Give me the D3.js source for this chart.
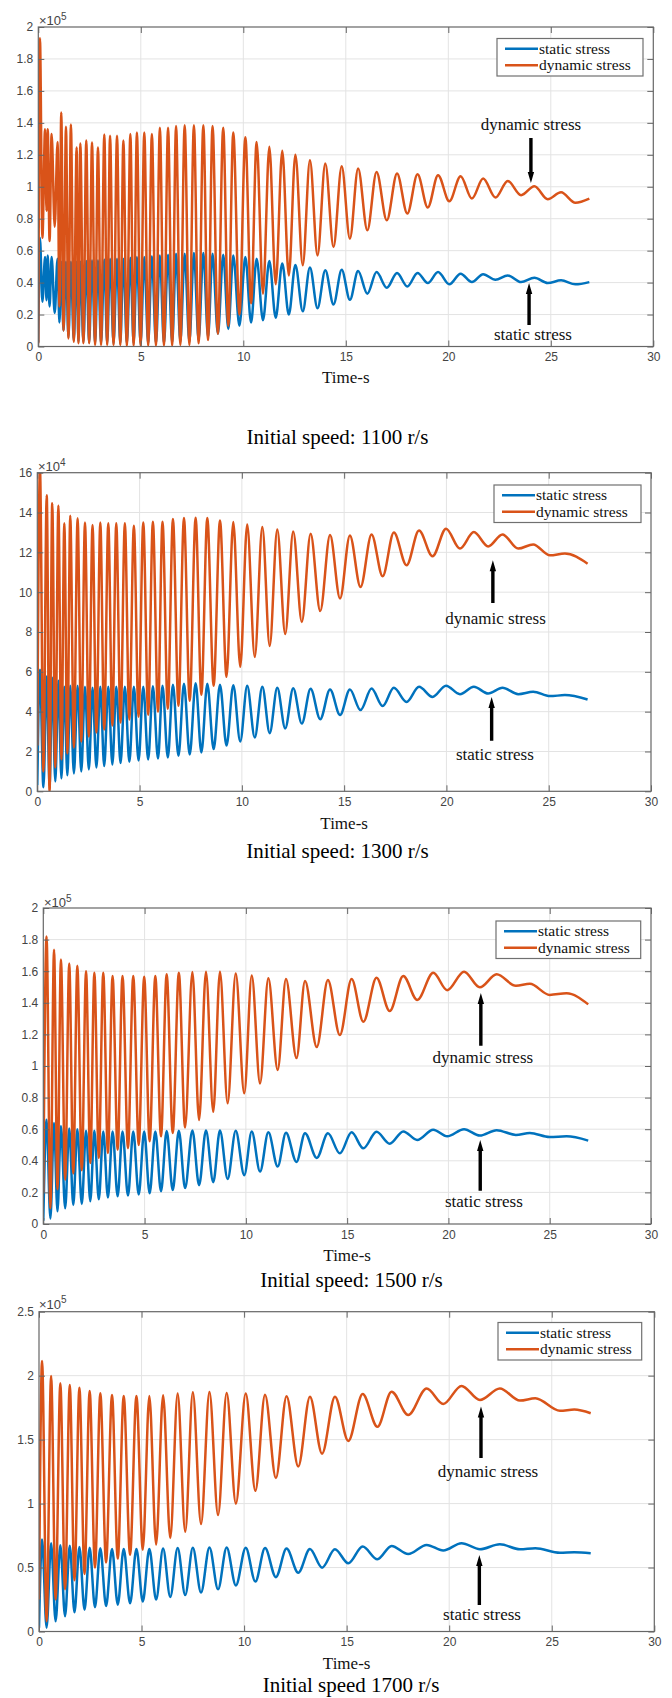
<!DOCTYPE html>
<html><head><meta charset="utf-8">
<script src="https://cdn.jsdelivr.net/npm/d3@7"></script>
<style>body{margin:0;background:#fff}svg{display:block}</style>
</head><body>
<svg id="c" width="672" height="1698"></svg>
<script>
// ---------------- DATA ----------------
const xTicks = [0, 5, 10, 15, 20, 25, 30];
const yTicks1 = [0, 0.2, 0.4, 0.6, 0.8, 1, 1.2, 1.4, 1.6, 1.8, 2];
const yTicks2 = [0, 2, 4, 6, 8, 10, 12, 14, 16];
const yTicks3 = [0, 0.2, 0.4, 0.6, 0.8, 1, 1.2, 1.4, 1.6, 1.8, 2];
const yTicks4 = [0, 0.5, 1, 1.5, 2, 2.5];
const exponents = ["5", "4", "5", "5"];
const captions = ["Initial speed: 1100 r/s", "Initial speed: 1300 r/s", "Initial speed: 1500 r/s", "Initial speed 1700 r/s"];
const seriesNames = ["static stress", "dynamic stress"];

// Panel 1 (1100 r/s), values x10^5 : extrema of the oscillation
const p1PeakT = [0.08,0.33,0.46,0.65,0.94,1.12,1.35,1.59,1.87,2.05,2.34,2.62,2.91,3.22,3.50,3.84,4.15,4.49,4.81,5.17,5.54,5.93,6.33,6.72,7.14,7.59,8.05,8.50,9.02,9.51,10.1,10.65,11.27,11.9,12.54,13.25,14.0,14.8,15.6,16.5,17.5,18.5,19.5,20.6,21.7,22.9,24.2,25.5];
const p1TroughT = [0.2,0.4,0.55,0.8,1.03,1.23,1.47,1.73,1.96,2.2,2.48,2.77,3.06,3.36,3.67,4.0,4.32,4.65,4.99,5.36,5.74,6.13,6.53,6.93,7.37,7.82,8.28,8.76,9.27,9.81,10.38,10.96,11.58,12.22,12.9,13.62,14.4,15.2,16.05,17.0,18.0,19.0,20.05,21.15,22.3,23.55,24.85,26.2];
const p1DynPeak = [1.93,1.36,1.36,1.33,1.28,1.465,1.375,1.39,1.246,1.27,1.29,1.277,1.246,1.327,1.32,1.32,1.29,1.33,1.34,1.34,1.33,1.37,1.37,1.38,1.385,1.385,1.385,1.38,1.37,1.34,1.31,1.28,1.25,1.225,1.20,1.166,1.145,1.128,1.114,1.093,1.083,1.078,1.072,1.066,1.051,1.036,1.003,0.965];
const p1DynTrough = [0.68,0.85,0.66,0.75,0.25,0.1,0.05,0.03,0.02,0.02,0.02,0.01,0.01,0.01,0.01,0.01,0.005,0.005,0.005,0.005,0.005,0.005,0.005,0.01,0.01,0.02,0.04,0.08,0.13,0.2,0.27,0.33,0.39,0.445,0.508,0.57,0.623,0.675,0.727,0.79,0.832,0.87,0.909,0.926,0.932,0.947,0.922,0.90];
const p1StaPeak = [0.68,0.56,0.57,0.56,0.55,0.53,0.53,0.53,0.53,0.53,0.535,0.54,0.54,0.545,0.55,0.55,0.55,0.555,0.56,0.56,0.565,0.57,0.575,0.58,0.58,0.585,0.585,0.58,0.575,0.57,0.56,0.55,0.535,0.52,0.51,0.495,0.478,0.48,0.472,0.466,0.46,0.46,0.466,0.456,0.452,0.445,0.43,0.414];
const p1StaTrough = [0.28,0.29,0.25,0.21,0.15,0.1,0.06,0.04,0.03,0.03,0.025,0.02,0.02,0.02,0.02,0.02,0.02,0.02,0.02,0.02,0.02,0.02,0.025,0.03,0.03,0.04,0.06,0.08,0.11,0.13,0.15,0.165,0.18,0.2,0.22,0.24,0.263,0.292,0.33,0.368,0.376,0.397,0.389,0.403,0.418,0.403,0.397,0.389];
const p1EdgeT = [0, 26.88];
const p1EdgeDyn = [0.02, 0.926];
const p1EdgeSta = [0.03, 0.403];

// Panel 2 (1300 r/s), values x10^4
const p2PeakT = [0.13,0.46,0.73,1.03,1.32,1.61,1.97,2.33,2.70,3.08,3.47,3.86,4.28,4.72,5.18,5.65,6.12,6.63,7.17,7.74,8.31,8.93,9.58,10.26,11.0,11.73,12.51,13.36,14.31,15.28,16.34,17.43,18.66,19.98,21.34,22.74,24.24,25.79];
const p2TroughT = [0.3,0.6,0.88,1.18,1.47,1.79,2.15,2.52,2.89,3.27,3.67,4.07,4.5,4.95,5.42,5.9,6.38,6.9,7.45,8.02,8.62,9.25,9.92,10.63,11.36,12.12,12.93,13.83,14.8,15.8,16.88,18.05,19.32,20.66,22.04,23.51,25.06];
const p2DynPeak = [16.2,14.87,14.46,14.34,13.46,13.84,13.71,13.5,13.37,13.5,13.46,13.46,13.46,13.33,13.5,13.54,13.54,13.67,13.72,13.74,13.72,13.6,13.52,13.4,13.27,13.15,13.05,12.93,12.87,12.85,12.9,13.0,13.1,13.19,13.02,12.9,12.4,11.94];
const p2DynTrough = [1.0,0.0,1.2,1.6,1.9,2.2,2.5,2.75,2.95,3.1,3.3,3.45,3.6,3.75,3.85,4.0,4.15,4.3,4.55,4.85,5.3,5.75,6.25,6.75,7.3,7.9,8.5,9.05,9.68,10.26,10.8,11.35,11.8,12.19,12.3,12.19,11.85];
const p2StaPeak = [6.1,5.77,5.7,5.55,5.25,5.3,5.3,5.25,5.2,5.25,5.25,5.25,5.25,5.25,5.25,5.28,5.3,5.35,5.4,5.42,5.4,5.35,5.33,5.3,5.25,5.2,5.18,5.15,5.11,5.11,5.16,5.2,5.25,5.3,5.25,5.2,5.0,4.83];
const p2StaTrough = [0.2,0.3,0.5,0.65,0.8,0.9,1.0,1.1,1.2,1.27,1.35,1.42,1.48,1.55,1.6,1.65,1.7,1.78,1.85,1.95,2.12,2.3,2.5,2.7,2.92,3.16,3.4,3.62,3.83,4.08,4.28,4.49,4.74,4.88,4.91,4.88,4.78];
const p2EdgeT = [0, 26.9];
const p2EdgeDyn = [2.3, 11.43];
const p2EdgeSta = [0.3, 4.61];

// Panel 3 (1500 r/s), values x10^5
const p3PeakT = [0.16,0.53,0.87,1.28,1.68,2.11,2.52,2.96,3.42,3.91,4.44,4.98,5.53,6.09,6.69,7.36,8.03,8.72,9.5,10.29,11.11,11.98,12.92,14.05,15.22,16.45,17.77,19.25,20.77,22.38,24.02,25.83];
const p3TroughT = [0.35,0.70,1.08,1.48,1.9,2.32,2.74,3.19,3.67,4.18,4.71,5.25,5.81,6.39,7.0,7.69,8.39,9.1,9.92,10.7,11.57,12.5,13.5,14.64,15.8,17.1,18.46,19.94,21.55,23.33,25.0];
const p3DynPeak = [1.82,1.736,1.674,1.648,1.635,1.6,1.59,1.59,1.57,1.57,1.57,1.565,1.57,1.58,1.59,1.595,1.597,1.597,1.586,1.572,1.555,1.55,1.538,1.544,1.55,1.558,1.57,1.59,1.597,1.58,1.52,1.46];
const p3DynTrough = [0.1,0.22,0.28,0.32,0.34,0.386,0.418,0.45,0.47,0.48,0.5,0.523,0.555,0.576,0.61,0.658,0.71,0.764,0.827,0.89,0.975,1.05,1.12,1.196,1.28,1.348,1.418,1.48,1.498,1.508,1.45];
const p3StaPeak = [0.66,0.64,0.62,0.605,0.6,0.59,0.59,0.585,0.585,0.585,0.585,0.585,0.585,0.588,0.59,0.592,0.592,0.592,0.59,0.585,0.58,0.578,0.575,0.574,0.58,0.584,0.586,0.597,0.6,0.594,0.576,0.555];
const p3StaTrough = [0.035,0.08,0.1,0.12,0.127,0.144,0.156,0.168,0.175,0.18,0.187,0.195,0.207,0.215,0.228,0.246,0.265,0.285,0.309,0.332,0.364,0.392,0.418,0.447,0.479,0.508,0.532,0.555,0.56,0.564,0.55];
const p3EdgeT = [0, 26.9];
const p3EdgeDyn = [0.2, 1.39];
const p3EdgeSta = [0.02, 0.528];

// Panel 4 (1700 r/s), values x10^5
const p4PeakT = [0.15,0.59,1.04,1.5,1.97,2.47,2.99,3.56,4.13,4.75,5.38,6.05,6.76,7.5,8.31,9.15,10.08,11.02,12.07,13.21,14.43,15.78,17.19,18.9,20.6,22.47,24.2,26.1];
const p4TroughT = [0.37,0.81,1.27,1.73,2.22,2.73,3.27,3.84,4.44,5.06,5.71,6.4,7.13,7.9,8.73,9.6,10.55,11.55,12.64,13.8,15.08,16.5,18.0,19.71,21.5,23.45,25.4];
const p4DynPeak = [2.115,1.998,1.94,1.927,1.906,1.88,1.862,1.849,1.841,1.841,1.841,1.846,1.86,1.87,1.873,1.865,1.86,1.85,1.84,1.835,1.836,1.857,1.875,1.9,1.92,1.9,1.823,1.735];
const p4DynTrough = [0.08,0.25,0.33,0.4,0.45,0.5,0.54,0.57,0.6,0.64,0.68,0.73,0.78,0.84,0.91,1.0,1.1,1.2,1.29,1.39,1.49,1.6,1.693,1.779,1.81,1.805,1.725];
const p4StaPeak = [0.72,0.69,0.675,0.67,0.66,0.655,0.65,0.645,0.645,0.645,0.645,0.648,0.652,0.655,0.657,0.657,0.655,0.652,0.648,0.645,0.643,0.664,0.669,0.677,0.69,0.682,0.651,0.62];
const p4StaTrough = [0.03,0.08,0.12,0.15,0.17,0.19,0.2,0.21,0.22,0.235,0.25,0.27,0.285,0.305,0.33,0.36,0.39,0.425,0.46,0.499,0.533,0.565,0.606,0.633,0.643,0.643,0.615];
const p4EdgeT = [0, 26.9];
const p4EdgeDyn = [0.25, 1.706];
const p4EdgeSta = [0.03, 0.612];

// ---------------- LAYOUT ----------------
const panels = [
  {peakT:p1PeakT, troughT:p1TroughT, dynP:p1DynPeak, dynT:p1DynTrough, staP:p1StaPeak, staT:p1StaTrough, eT:p1EdgeT, eD:p1EdgeDyn, eS:p1EdgeSta, yTicks:yTicks1},
  {peakT:p2PeakT, troughT:p2TroughT, dynP:p2DynPeak, dynT:p2DynTrough, staP:p2StaPeak, staT:p2StaTrough, eT:p2EdgeT, eD:p2EdgeDyn, eS:p2EdgeSta, yTicks:yTicks2},
  {peakT:p3PeakT, troughT:p3TroughT, dynP:p3DynPeak, dynT:p3DynTrough, staP:p3StaPeak, staT:p3StaTrough, eT:p3EdgeT, eD:p3EdgeDyn, eS:p3EdgeSta, yTicks:yTicks3},
  {peakT:p4PeakT, troughT:p4TroughT, dynP:p4DynPeak, dynT:p4DynTrough, staP:p4StaPeak, staT:p4StaTrough, eT:p4EdgeT, eD:p4EdgeDyn, eS:p4EdgeSta, yTicks:yTicks4}
];
const layout = [
  {left:38.3, right:653.3, top:27, bottom:346.5, capX:337.5, capY:444, timeY:383, expX:39, expY:25,
   legend:{x:497, y:38.5, w:146, h:37.5},
   ann:[{t:24.03, tip:1.023, tail:1.305, lt:24.03, lv:1.355, text:"dynamic stress"},
        {t:23.94, tip:0.397, tail:0.135, lt:24.13, lv:0.04, text:"static stress"}]},
  {left:37.3, right:651, top:472.7, bottom:791.3, capX:337.5, capY:858, timeY:829, expX:38, expY:471,
   legend:{x:494, y:485, w:147, h:37.5},
   ann:[{t:22.27, tip:11.6, tail:9.46, lt:22.4, lv:8.39, text:"dynamic stress"},
        {t:22.21, tip:4.74, tail:2.54, lt:22.37, lv:1.57, text:"static stress"}]},
  {left:43.3, right:651, top:908, bottom:1224, capX:351.5, capY:1287, timeY:1261, expX:44, expY:907,
   legend:{x:496, y:921, w:144.7, h:37.5},
   ann:[{t:21.6, tip:1.462, tail:1.128, lt:21.7, lv:1.019, text:"dynamic stress"},
        {t:21.57, tip:0.532, tail:0.211, lt:21.75, lv:0.108, text:"static stress"}]},
  {left:39, right:654.3, top:1311.7, bottom:1631.5, capX:351, capY:1692, timeY:1669, expX:39, expY:1308.5,
   legend:{x:498, y:1322.5, w:143.7, h:37.5},
   ann:[{t:21.55, tip:1.758, tail:1.357, lt:21.89, lv:1.208, text:"dynamic stress"},
        {t:21.47, tip:0.598, tail:0.207, lt:21.6, lv:0.09, text:"static stress"}]}
];

const BLUE = "#0072BD", ORANGE = "#D95319";
const SANS = "Arial, 'Liberation Sans', Helvetica, sans-serif";
const SERIF = "'Times New Roman', 'Liberation Serif', serif";

function build(peakT, troughT, peaks, troughs, edgeT, edgeV) {
  const pts = [[edgeT[0], edgeV[0]]];
  peakT.forEach((t, i) => {
    pts.push([t, peaks[i]]);
    if (i < troughT.length) pts.push([troughT[i], troughs[i]]);
  });
  pts.push([edgeT[1], edgeV[1]]);
  return pts;
}

const svg = d3.select("#c");
const defs = svg.append("defs");

layout.forEach((L, k) => {
  const P = panels[k];
  const yMax = P.yTicks[P.yTicks.length - 1];
  const x = d3.scaleLinear().domain([0, 30]).range([L.left, L.right]);
  const y = d3.scaleLinear().domain([0, yMax]).range([L.bottom, L.top]);
  const g = svg.append("g");

  // grid
  g.selectAll(".gx").data(xTicks.slice(1, -1)).join("line")
    .attr("x1", d => x(d)).attr("x2", d => x(d)).attr("y1", L.top).attr("y2", L.bottom)
    .attr("stroke", "#e3e3e3").attr("stroke-width", 1);
  g.selectAll(".gy").data(P.yTicks.slice(1, -1)).join("line")
    .attr("y1", d => y(d)).attr("y2", d => y(d)).attr("x1", L.left).attr("x2", L.right)
    .attr("stroke", "#e3e3e3").attr("stroke-width", 1);

  // clip
  const cid = "clip" + k;
  defs.append("clipPath").attr("id", cid).append("rect")
    .attr("x", L.left).attr("y", L.top).attr("width", L.right - L.left).attr("height", L.bottom - L.top);

  const line = d3.line().x(d => x(d[0])).y(d => y(d[1])).curve(d3.curveMonotoneX);
  const sta = build(P.peakT, P.troughT, P.staP, P.staT, P.eT, P.eS);
  const dyn = build(P.peakT, P.troughT, P.dynP, P.dynT, P.eT, P.eD);
  g.append("path").datum(sta).attr("d", line).attr("fill", "none").attr("stroke", BLUE)
    .attr("stroke-width", 2.5).attr("stroke-linejoin", "round").attr("clip-path", `url(#${cid})`);
  g.append("path").datum(dyn).attr("d", line).attr("fill", "none").attr("stroke", ORANGE)
    .attr("stroke-width", 2.5).attr("stroke-linejoin", "round").attr("clip-path", `url(#${cid})`);

  // axes
  const fmt = d => String(d);
  const axB = g.append("g").attr("transform", `translate(0,${L.bottom})`)
    .call(d3.axisBottom(x).tickValues(xTicks).tickSize(-6).tickSizeOuter(0).tickPadding(6).tickFormat(fmt));
  const axT = g.append("g").attr("transform", `translate(0,${L.top})`)
    .call(d3.axisTop(x).tickValues(xTicks).tickSize(-6).tickSizeOuter(0).tickFormat(""));
  const axL = g.append("g").attr("transform", `translate(${L.left},0)`)
    .call(d3.axisLeft(y).tickValues(P.yTicks).tickSize(-6).tickSizeOuter(0).tickPadding(5).tickFormat(fmt));
  const axR = g.append("g").attr("transform", `translate(${L.right},0)`)
    .call(d3.axisRight(y).tickValues(P.yTicks).tickSize(-6).tickSizeOuter(0).tickFormat(""));
  [axB, axT, axL, axR].forEach(a => {
    a.select(".domain").remove();
    a.selectAll(".tick line").attr("stroke", "#666").attr("stroke-width", 1);
    a.selectAll("text").attr("fill", "#444").style("font-family", SANS).style("font-size", "12px");
  });
  g.append("rect").attr("x", L.left).attr("y", L.top).attr("width", L.right - L.left).attr("height", L.bottom - L.top)
    .attr("fill", "none").attr("stroke", "#666").attr("stroke-width", 1.2);

  // exponent
  const ex = g.append("text").attr("x", L.expX).attr("y", L.expY).attr("fill", "#444")
    .style("font-family", SANS).style("font-size", "13px");
  ex.append("tspan").text("\u00d710");
  ex.append("tspan").attr("dy", -5.5).style("font-size", "10px").text(exponents[k]);

  // x label & caption
  g.append("text").attr("x", (L.left + L.right) / 2).attr("y", L.timeY).attr("text-anchor", "middle")
    .style("font-family", SERIF).style("font-size", "17px").attr("fill", "#111").text("Time-s");
  g.append("text").attr("x", L.capX).attr("y", L.capY).attr("text-anchor", "middle")
    .style("font-family", SERIF).style("font-size", "21px").attr("fill", "#000").text(captions[k]);

  // legend
  const lg = L.legend;
  g.append("rect").attr("x", lg.x).attr("y", lg.y).attr("width", lg.w).attr("height", lg.h)
    .attr("fill", "#fff").attr("stroke", "#707070").attr("stroke-width", 1.2);
  [BLUE, ORANGE].forEach((c, i) => {
    const cy = lg.y + 10.2 + i * 16.5;
    g.append("line").attr("x1", lg.x + 8).attr("x2", lg.x + 41).attr("y1", cy).attr("y2", cy)
      .attr("stroke", c).attr("stroke-width", 2.4);
    g.append("text").attr("x", lg.x + 42).attr("y", cy + 4.8).style("font-family", SERIF).style("font-size", "15.5px")
      .attr("fill", "#111").text(seriesNames[i]);
  });

  // annotations (arrows)
  L.ann.forEach(a => {
    const ax0 = x(a.t), yTip = y(a.tip), yTail = y(a.tail);
    const dir = yTail > yTip ? 1 : -1;
    const hl = 11, hw = 3.2, sw = 1.7;
    const yBase = yTip + dir * hl;
    const pts = [[ax0 - sw, yTail], [ax0 - sw, yBase], [ax0 - hw, yBase], [ax0, yTip], [ax0 + hw, yBase], [ax0 + sw, yBase], [ax0 + sw, yTail]];
    g.append("polygon").attr("points", pts.map(p => p.join(",")).join(" ")).attr("fill", "#000");
    g.append("text").attr("x", x(a.lt)).attr("y", y(a.lv)).attr("text-anchor", "middle")
      .style("font-family", SERIF).style("font-size", "17px").attr("fill", "#111").text(a.text);
  });
});
</script>
</body></html>
